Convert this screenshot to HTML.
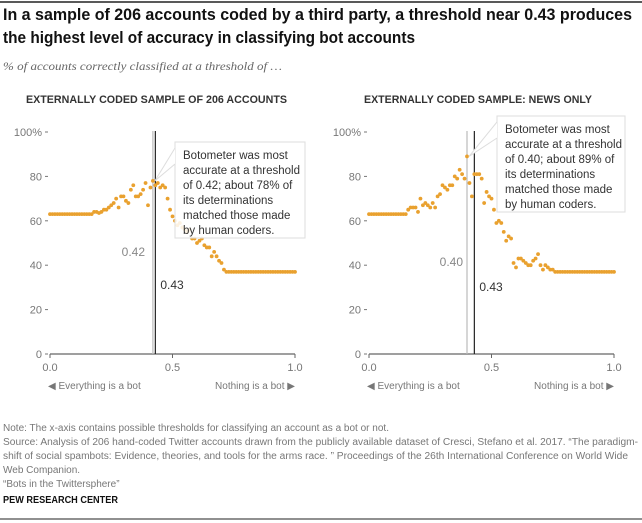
<!DOCTYPE html>
<html><head><meta charset="utf-8"><style>
html,body{margin:0;padding:0;background:#fff;}
svg{display:block;font-family:"Liberation Sans",sans-serif;}
</style></head><body>
<svg id="root" width="642" height="523" viewBox="0 0 642 523">
<line x1="0" y1="2" x2="642" y2="2" stroke="#222" stroke-width="1.5"/>
<text x="3" y="20" font-size="17" font-weight="bold" fill="#111" textLength="629" lengthAdjust="spacingAndGlyphs">In a sample of 206 accounts coded by a third party, a threshold near 0.43 produces</text>
<text x="3" y="43" font-size="17" font-weight="bold" fill="#111" textLength="412" lengthAdjust="spacingAndGlyphs">the highest level of accuracy in classifying bot accounts</text>
<text x="3" y="70" font-size="12" font-style="italic" fill="#666" font-family="Liberation Serif, serif" textLength="279" lengthAdjust="spacingAndGlyphs">% of accounts correctly classified at a threshold of …</text>
<text x="26" y="103" font-size="11" font-weight="bold" fill="#333" textLength="261" lengthAdjust="spacingAndGlyphs">EXTERNALLY CODED SAMPLE OF 206 ACCOUNTS</text>
<text x="364" y="103" font-size="11" font-weight="bold" fill="#333" textLength="228" lengthAdjust="spacingAndGlyphs">EXTERNALLY CODED SAMPLE: NEWS ONLY</text>
<g id="left"></g>
<g id="right"></g>
<g font-size="10" fill="#777">
<text x="3" y="431" textLength="386" lengthAdjust="spacingAndGlyphs">Note: The x-axis contains possible thresholds for classifying an account as a bot or not.</text>
<text x="3" y="445" textLength="635" lengthAdjust="spacingAndGlyphs">Source: Analysis of 206 hand-coded Twitter accounts drawn from the publicly available dataset of Cresci, Stefano et al. 2017. “The paradigm-</text>
<text x="3" y="459" textLength="625" lengthAdjust="spacingAndGlyphs">shift of social spambots: Evidence, theories, and tools for the arms race. ” Proceedings of the 26th International Conference on World Wide</text>
<text x="3" y="473">Web Companion.</text>
<text x="3" y="487">“Bots in the Twittersphere”</text>
</g>
<text x="3" y="503" font-size="10" font-weight="bold" fill="#111" textLength="115" lengthAdjust="spacingAndGlyphs">PEW RESEARCH CENTER</text>
<line x1="0" y1="519" x2="642" y2="519" stroke="#222" stroke-width="1"/>
</svg>
<script>
const thresholds = Array.from({length:101},(_, i)=>i/100);
const leftValues = [63,63,63,63,63,63,63,63,63,63,63,63,63,63,63,63,63,63,64,64,63.5,64,65,65,66,67,68,70,66,71,71,69,68,74,76,71,71,72,74,77,67,75,78,76,77,75,76,75,70,65,62,60,58,59,57,56,55,56,52,52,50,51,52,49,48,48,44,46,44,42,41,38,37,37,37,37,37,37,37,37,37,37,37,37,37,37,37,37,37,37,37,37,37,37,37,37,37,37,37,37,37];
const rightValues = [63,63,63,63,63,63,63,63,63,63,63,63,63,63,63,63,65,66,66,66,64,70,67,68,67,66,68,66,71,72,76,75,74,76,76,80,79,83,81,79,89,77,71,81,81,81,79,68,73,71,70,65,59,60,59,55,51,53,52,41,39,43,43,42,41,40,40,42,43,45,40,38,40,39,38,38,37,37,37,37,37,37,37,37,37,37,37,37,37,37,37,37,37,37,37,37,37,37,37,37,37];
const yTicks = [0,20,40,60,80,100];
const xTicks = [0,0.5,1];
const NS='http://www.w3.org/2000/svg';
function mk(tag, attrs, parent, txt){const e=document.createElementNS(NS,tag);for(const k in attrs)e.setAttribute(k,attrs[k]);if(txt!==undefined)e.textContent=txt;parent.appendChild(e);return e;}
function panel(g, x0, values, best, bestLabel, bestPos, ann, annBox){
  const xs=v=>x0+v*245, ys=v=>354-v*2.22;
  yTicks.forEach(t=>{
    const l=mk('text',{x:x0-8,y:ys(t)+4,'font-size':11,fill:'#777','text-anchor':'end'},g,t===100?'100%':String(t));
    
    
    const tk=mk('line',{x1:x0-5,x2:x0-2,y1:ys(t),y2:ys(t),stroke:'#777'},g);
    
    
  });
  const ax=mk('line',{x1:x0,x2:xs(1),y1:354,y2:354,stroke:'#666','stroke-width':1.2},g);
  
  
  xTicks.forEach(t=>{
    const tk=mk('line',{x1:xs(t),x2:xs(t),y1:354,y2:358,stroke:'#666'},g);
    
    
    const l=mk('text',{x:xs(t),y:371,'font-size':11,fill:'#777','text-anchor':'middle'},g,t.toFixed(1));
    
    
  });
  const e1=mk('text',{x:x0-2,y:389,'font-size':10,fill:'#777'},g,'◀ Everything is a bot');
  
  
  const e2=mk('text',{x:xs(1),y:389,'font-size':10,fill:'#777','text-anchor':'end'},g,'Nothing is a bot ▶');
  
  
  const gl=mk('line',{x1:xs(best),x2:xs(best),y1:131,y2:354,stroke:'#bbb','stroke-width':1.2},g);
  
  
  const bl=mk('line',{x1:xs(0.43),x2:xs(0.43),y1:131,y2:354,stroke:'#222','stroke-width':1.2},g);
  
  
  thresholds.forEach((t,i)=>{
    const c=mk('circle',{cx:xs(t),cy:ys(values[i]),r:1.9,fill:'#E9A12F'},g);
    
    
  });
  const bt=mk('text',{x:bestPos[0],y:bestPos[1],'font-size':12,fill:'#888','text-anchor':'end'},g,bestLabel);
  
  
  const t43=mk('text',{x:xs(0.43)+5,y:bestPos[2],'font-size':12,fill:'#333'},g,'0.43');
  
  
  const [bx,by,bw,bh]=annBox;
  const r=mk('rect',{x:bx,y:by,width:bw,height:bh,fill:'rgba(255,255,255,0.85)',stroke:'#ddd'},g);
  
  
  const p=mk('path',{d:`M${bx} ${by+6} L${xs(best)+2} ${ys(values[Math.round(best*100)])} L${bx} ${by+22}`,fill:'#fff',stroke:'#ddd'},g);
  
  
  ann.forEach((line,i)=>{
    const t=mk('text',{x:bx+8,y:by+17+i*15,'font-size':11.5,fill:'#333'},g,line);
    
    
  });
}
panel(document.getElementById('left'),50,leftValues,0.42,'0.42',[145,256,289],
 ['Botometer was most','accurate at a threshold','of 0.42; about 78% of','its determinations','matched those made','by human coders.'],[175,142,130,96]);
panel(document.getElementById('right'),369,rightValues,0.40,'0.40',[463,266,291],
 ['Botometer was most','accurate at a threshold','of 0.40; about 89% of','its determinations','matched those made','by human coders.'],[497,116,128,96]);
</script>
</body></html>
